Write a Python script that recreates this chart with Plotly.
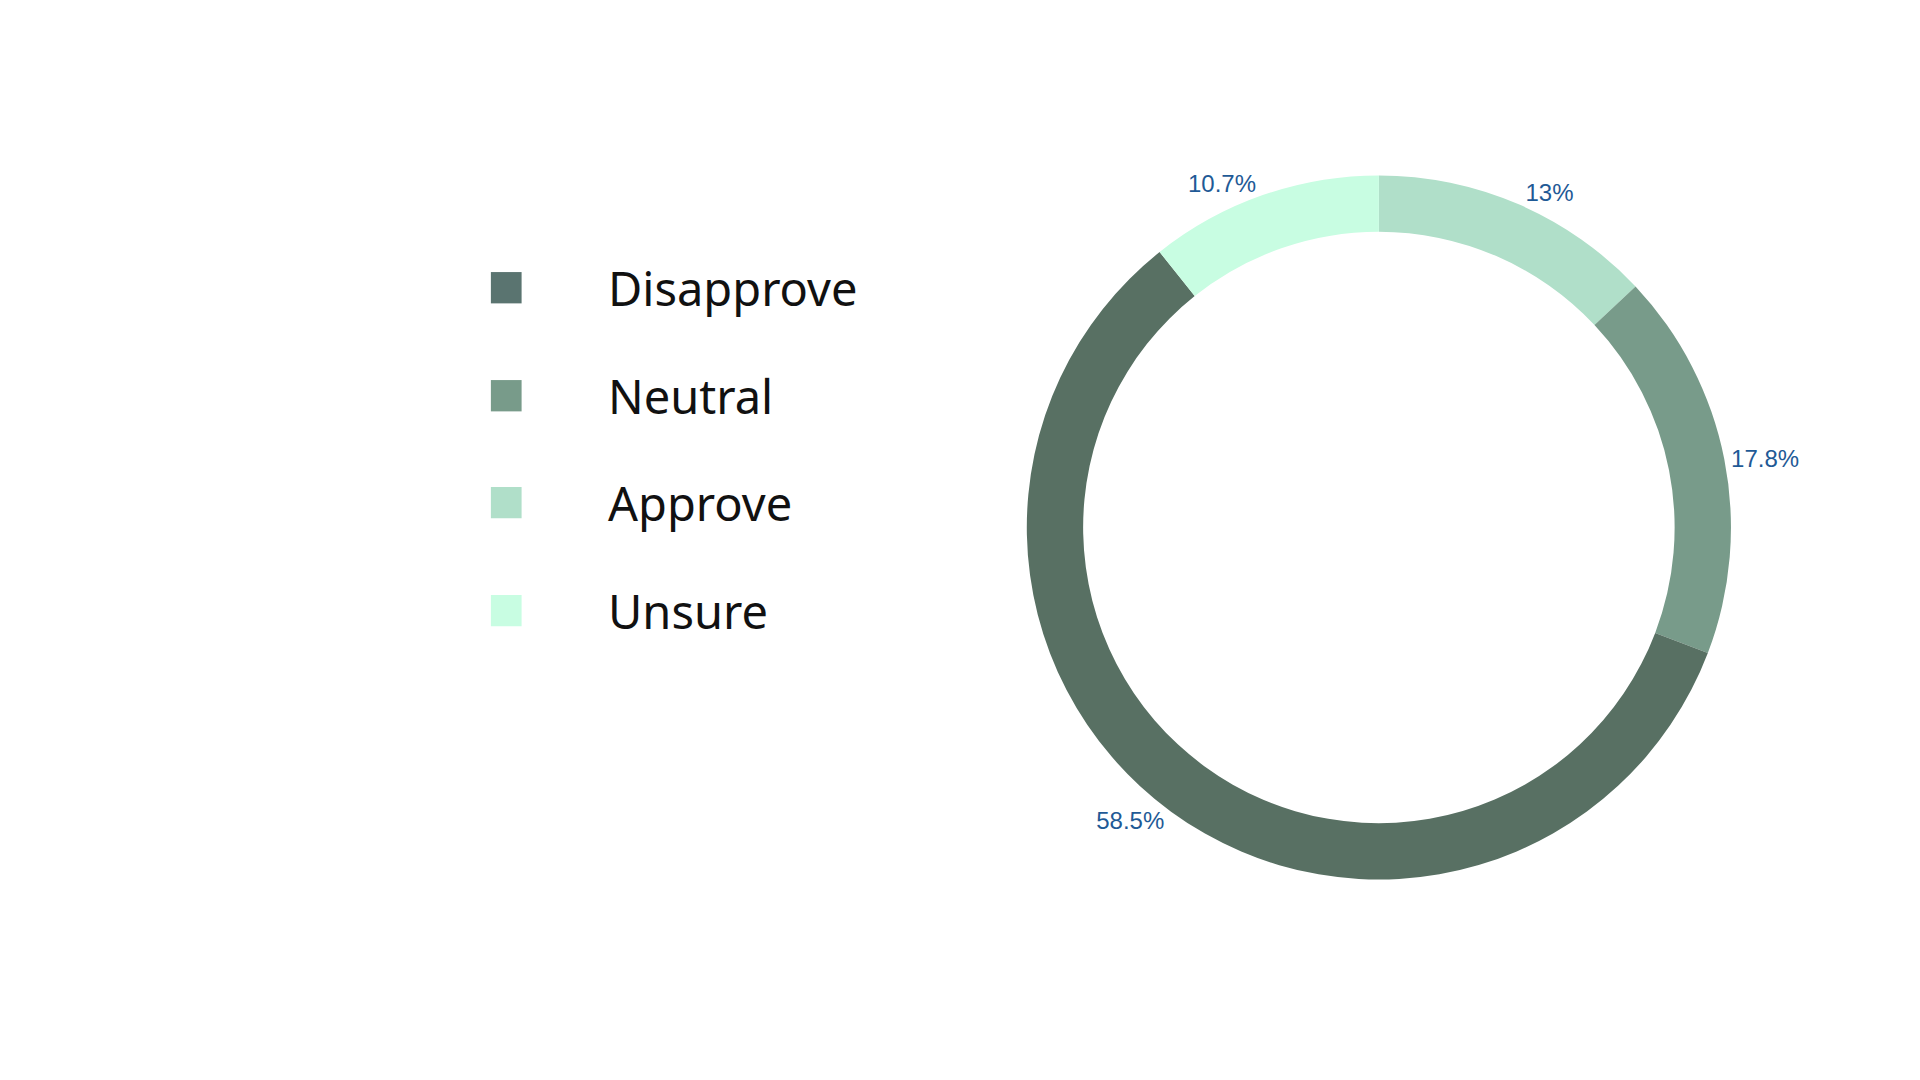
import plotly.graph_objects as go

labels = ["Approve", "Neutral", "Disapprove", "Unsure"]
values = [13.0, 17.8, 58.5, 10.7]
colors = ["#b0dfc9", "#789b8a", "#587063", "#c8fde2"]
legend_order = ["Disapprove", "Neutral", "Approve", "Unsure"]
legend_colors = ["#5a7470", "#789b8a", "#b0dfc9", "#c8fde2"]

fig = go.Figure(go.Pie(
    labels=labels, values=values, hole=0.84, sort=False, direction="clockwise",
    rotation=0, marker=dict(colors=colors, line=dict(width=0)),
    texttemplate="%{value}%", textposition="outside",
    textfont=dict(family="Arial, Liberation Sans", size=24, color="#1f5a96"),
    domain=dict(x=[0.530, 0.898], y=[0.193, 0.845]), showlegend=False,
    automargin=False,
))

ys = [0.741, 0.641, 0.542, 0.442]
for name, c, y in zip(legend_order, legend_colors, ys):
    fig.add_shape(type="rect", xref="paper", yref="paper", x0=0.2515, x1=0.2675,
                  y0=y - 0.0145, y1=y + 0.0145, fillcolor=c, line=dict(width=0))
    fig.add_annotation(xref="paper", yref="paper", x=0.3116, y=y, text=name,
                       showarrow=False, xanchor="left", yanchor="middle",
                       font=dict(family="Noto Sans", size=47, color="#111111"))

fig.update_layout(width=1920, height=1080, margin=dict(l=0, r=0, t=0, b=0),
                  paper_bgcolor="white", plot_bgcolor="white")
fig.write_html("out.html")
